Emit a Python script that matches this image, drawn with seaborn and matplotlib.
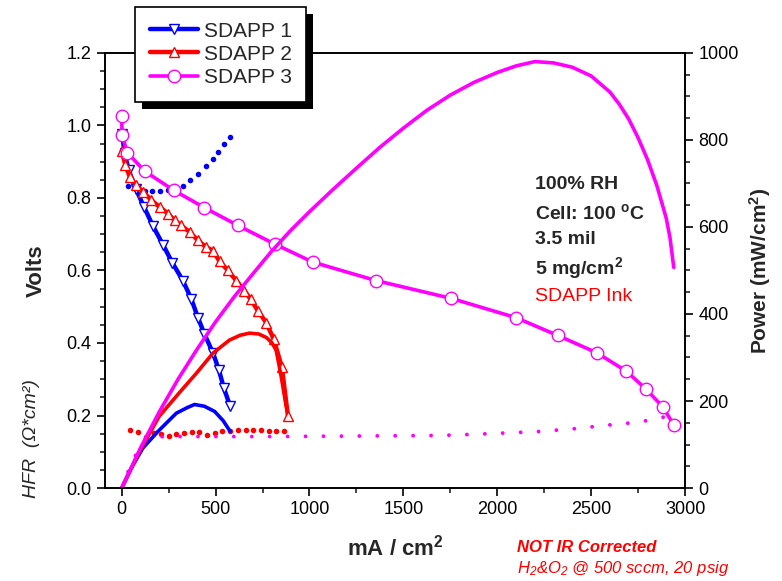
import matplotlib
matplotlib.use("Agg")
import matplotlib.pyplot as plt
from matplotlib.lines import Line2D
from matplotlib.patches import Rectangle
from matplotlib.ticker import MultipleLocator
import seaborn as sns

# ── Data ──────────────────────────────────────────────────────────────────────
# polarization curves: current (mA/cm2) vs volts
sdapp1_i = [3, 15, 37, 75, 119, 167, 220, 270, 326, 371, 406, 441, 486, 518, 544, 578]
sdapp1_v = [0.975, 0.925, 0.877, 0.825, 0.775, 0.722, 0.671, 0.621, 0.572, 0.521,
            0.47, 0.424, 0.373, 0.325, 0.276, 0.225]

sdapp2_i = [0, 20, 43, 78, 113, 158, 202, 246, 282, 317, 362, 406, 450, 486, 521,
            566, 610, 654, 686, 725, 770, 810, 853, 885]
sdapp2_v = [0.93, 0.89, 0.858, 0.835, 0.817, 0.794, 0.775, 0.757, 0.738, 0.724,
            0.706, 0.683, 0.664, 0.655, 0.625, 0.60, 0.572, 0.544, 0.521, 0.489,
            0.456, 0.41, 0.333, 0.2]

sdapp3_i = [0, 2, 30, 122, 277, 441, 619, 814, 1018, 1355, 1755, 2099, 2321, 2530,
            2688, 2794, 2883, 2941]
sdapp3_v = [1.025, 0.974, 0.925, 0.874, 0.821, 0.773, 0.724, 0.673, 0.623, 0.572,
            0.523, 0.47, 0.421, 0.373, 0.322, 0.272, 0.223, 0.173]

# power density curves (mW/cm2), right axis
pow1_i = [0, 50, 113, 193, 291, 350, 388, 440, 495, 540, 578]
pow1_p = [0, 45, 92, 130, 172, 185, 192, 188, 176, 155, 130]

pow2_i = [0, 100, 200, 309, 400, 486, 574, 630, 681, 730, 770, 800, 823, 849, 876]
pow2_p = [0, 88, 165, 220, 265, 310, 340, 351, 356, 354, 346, 334, 316, 257, 188]

pow3_i = [0, 100, 200, 300, 400, 500, 600, 700, 800, 900, 1000, 1125, 1250, 1375,
          1500, 1625, 1750, 1875, 2000, 2100, 2200, 2300, 2400, 2500, 2600, 2650,
          2700, 2750, 2800, 2850, 2900, 2920, 2940]
pow3_p = [0, 92, 175, 250, 318, 382, 440, 493, 545, 592, 635, 686, 735, 783,
          827, 868, 903, 932, 955, 970, 980, 977, 967, 947, 910, 882,
          848, 805, 755, 695, 620, 575, 507]

# HFR (ohm*cm2), dotted, left axis
hfr1_i = [32, 78, 122, 163, 206, 246, 287, 326, 365, 408, 447, 486, 512, 543, 578]
hfr1_r = [0.832, 0.826, 0.82, 0.819, 0.818, 0.822, 0.83, 0.834, 0.85, 0.867,
          0.889, 0.906, 0.928, 0.948, 0.969]

hfr2_i = [46, 87, 128, 170, 211, 250, 291, 332, 372, 411, 454, 495, 536, 578, 619,
          660, 700, 741, 783, 824, 865]
hfr2_r = [0.159, 0.154, 0.142, 0.152, 0.15, 0.144, 0.15, 0.152, 0.154, 0.154,
          0.147, 0.153, 0.156, 0.158, 0.159, 0.159, 0.159, 0.159, 0.158, 0.157, 0.157]

hfr3_i = [34, 60, 90, 130, 246, 294, 500, 800, 1100, 1400, 1691, 1869, 2050, 2223,
          2400, 2578, 2718, 2825, 2904]
hfr3_r = [0.045, 0.075, 0.108, 0.135, 0.144, 0.142, 0.142, 0.142, 0.143, 0.144,
          0.145, 0.148, 0.152, 0.156, 0.163, 0.173, 0.18, 0.188, 0.198]

labels = ["SDAPP 1", "SDAPP 2", "SDAPP 3"]
notes = ["100% RH", r"Cell: 100 $^{\mathregular{o}}$C", "3.5 mil",
         r"5 mg/cm$^{\mathregular{2}}$"]

BLUE, RED, MAGENTA = "#0000FF", "#FF0000", "#FF00FF"

# ── Style ─────────────────────────────────────────────────────────────────────
sns.set_style("ticks")
plt.rcParams["font.family"] = ["Liberation Sans", "DejaVu Sans"]
plt.rcParams["mathtext.fontset"] = "custom"
plt.rcParams["mathtext.rm"] = "Liberation Sans"
plt.rcParams["mathtext.it"] = "Liberation Sans:italic"
plt.rcParams["mathtext.bf"] = "Liberation Sans:bold"

fig = plt.figure(figsize=(7.82, 5.81), dpi=100)
ax = fig.add_axes([0.134, 0.16, 0.742, 0.749])
ax2 = ax.twinx()
ax.patch.set_visible(False)
ax2.patch.set_visible(False)

line_kw = dict(sort=False, estimator=None, legend=False)

# HFR points / dotted line
sns.scatterplot(x=hfr1_i, y=hfr1_r, ax=ax, color=BLUE, s=16, linewidth=0, legend=False)
sns.scatterplot(x=hfr2_i, y=hfr2_r, ax=ax, color=RED, s=16, linewidth=0, legend=False)
sns.lineplot(x=hfr3_i, y=hfr3_r, ax=ax, color=MAGENTA, lw=2.8,
             linestyle=(0, (0.01, 4.6)), dash_capstyle="round", **line_kw)

# polarization curves
sns.lineplot(x=sdapp1_i, y=sdapp1_v, ax=ax, color=BLUE, lw=3.2, marker="v",
             markersize=7, markerfacecolor="white", markeredgecolor=BLUE,
             markeredgewidth=1, **line_kw)
sns.lineplot(x=sdapp2_i, y=sdapp2_v, ax=ax, color=RED, lw=3.2, marker="^",
             markersize=7, markerfacecolor="white", markeredgecolor=RED,
             markeredgewidth=1, **line_kw)
sns.lineplot(x=sdapp3_i, y=sdapp3_v, ax=ax, color=MAGENTA, lw=2.6, marker="o",
             markersize=9, markerfacecolor="white", markeredgecolor=MAGENTA,
             markeredgewidth=1, **line_kw)

# power curves
sns.lineplot(x=pow1_i, y=pow1_p, ax=ax2, color=BLUE, lw=2.6, **line_kw)
sns.lineplot(x=pow2_i, y=pow2_p, ax=ax2, color=RED, lw=2.6, **line_kw)
sns.lineplot(x=pow3_i, y=pow3_p, ax=ax2, color=MAGENTA, lw=2.6, **line_kw)

# ── Axes ──────────────────────────────────────────────────────────────────────
ax.set_xlim(-90, 3000)
ax.set_ylim(0, 1.2)
ax2.set_ylim(0, 1000)
ax.xaxis.set_major_locator(MultipleLocator(500))
ax.xaxis.set_minor_locator(MultipleLocator(250))
ax.yaxis.set_major_locator(MultipleLocator(0.2))
ax.yaxis.set_minor_locator(MultipleLocator(0.05))
ax2.yaxis.set_major_locator(MultipleLocator(200))
ax2.yaxis.set_minor_locator(MultipleLocator(50))

for a in (ax, ax2):
    a.tick_params(which="major", direction="out", length=6, width=1.2,
                  labelsize=13, colors="black")
    a.tick_params(which="minor", direction="out", length=3.5, width=1.2)
    for sp in a.spines.values():
        sp.set_visible(True)
        sp.set_linewidth(1.2)
        sp.set_color("black")
ax.tick_params(which="both", top=False, right=False)

ax.set_xlabel(r"mA / cm$^{\mathregular{2}}$", fontsize=16, fontweight="bold", labelpad=12)
ax.set_ylabel("Volts", fontsize=16, fontweight="bold", labelpad=14)
ax2.set_ylabel(r"Power (mW/cm$^{\mathregular{2}}$)", fontsize=15, fontweight="bold",
               labelpad=6)

fig.text(32 / 782, 1 - 439 / 581, "HFR  (Ω*cm²)", rotation=90, fontsize=14,
         style="italic", ha="center", va="center")

# condition notes
note_y = [0.697, 0.632, 0.570, 0.506]
for txt, yy in zip(notes, note_y):
    ax.text(0.741, yy, txt, transform=ax.transAxes, fontsize=14, fontweight="bold",
            va="center", ha="left")
ax.text(0.741, 0.441, "SDAPP Ink", transform=ax.transAxes, fontsize=14, color=RED,
        va="center", ha="left")

fig.text(517 / 782, 1 - 548 / 581, "NOT IR Corrected", fontsize=12, color=RED,
         fontweight="bold", style="italic", va="center", ha="left")
fig.text(517 / 782, 1 - 569 / 581,
         r"H$_{\mathregular{2}}$&O$_{\mathregular{2}}$ @ 500 sccm, 20 psig",
         fontsize=12, color=RED, style="italic", va="center", ha="left")

# ── Legend with hard black shadow ─────────────────────────────────────────────
handles = [
    Line2D([], [], color=BLUE, lw=3.2, marker="v", ms=7, mfc="white", mec=BLUE),
    Line2D([], [], color=RED, lw=3.2, marker="^", ms=7, mfc="white", mec=RED),
    Line2D([], [], color=MAGENTA, lw=2.6, marker="o", ms=9, mfc="white", mec=MAGENTA),
]
leg = ax2.legend(handles, labels, loc="upper left",
                 bbox_to_anchor=(135 / 782, 1 - 7 / 581),
                 bbox_transform=fig.transFigure, borderaxespad=0, fontsize=15,
                 frameon=True, fancybox=False, framealpha=1, edgecolor="black",
                 handlelength=2.3, handletextpad=0.3, labelspacing=0.2,
                 borderpad=0.7)
leg.get_frame().set_linewidth(1.2)
leg.set_zorder(20)

fig.canvas.draw()
bb = leg.get_window_extent()
shadow = Rectangle((bb.x0 + 7, bb.y0 - 7), bb.width, bb.height, transform=None,
                   facecolor="black", edgecolor="none", zorder=19, clip_on=False)
ax2.add_artist(shadow)

fig.savefig("out.png", dpi=100)
